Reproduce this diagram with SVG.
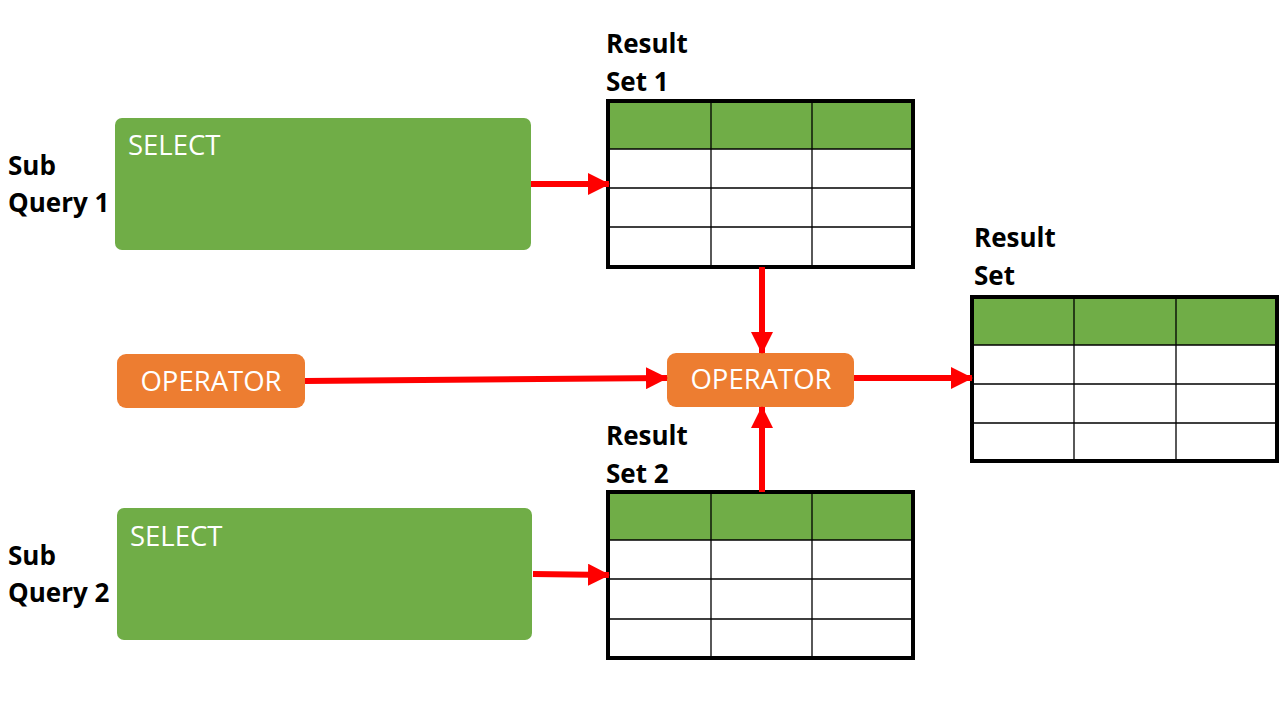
<svg xmlns="http://www.w3.org/2000/svg" width="1280" height="720" viewBox="0 0 1280 720">
<style>
.lbl{font-family:"Open Sans","Liberation Sans",sans-serif;font-weight:bold;font-size:26px;fill:#000}
.sel{fill:#70AD47}
.selt{font-family:"Open Sans","Liberation Sans",sans-serif;font-size:27.5px;fill:#fff}
.op{fill:#ED7D31}
.opt{font-family:"Open Sans","Liberation Sans",sans-serif;font-size:27.5px;fill:#fff;text-anchor:middle}
.hdr{fill:#70AD47}
.grid{stroke:#000;stroke-width:1.3;fill:none}
.outer{stroke:#000;stroke-width:4;fill:none}
.conn{stroke:#FF0000;stroke-width:6;fill:none;marker-end:url(#ah)}
</style>
<defs>
<marker id="ah" markerUnits="userSpaceOnUse" markerWidth="22" markerHeight="22" refX="21" refY="11" orient="auto">
<path d="M0,0 L22,11 L0,22 z" fill="#FF0000"/>
</marker>
</defs>
<rect width="1280" height="720" fill="#fff"/>

<g id="subquery1">
<text class="lbl" x="8" y="175">Sub</text>
<text class="lbl" x="8" y="212">Query 1</text>
<rect class="sel" x="115" y="118" width="416" height="132" rx="7"/>
<text class="selt" x="128" y="155">SELECT</text>
</g>

<g id="subquery2">
<text class="lbl" x="8" y="565">Sub</text>
<text class="lbl" x="8" y="602">Query 2</text>
<rect class="sel" x="117" y="508" width="415" height="132" rx="7"/>
<text class="selt" x="130" y="546">SELECT</text>
</g>

<g id="resultset1">
<text class="lbl" x="606" y="53">Result</text>
<text class="lbl" x="606" y="91">Set 1</text>
<rect class="hdr" x="608" y="101" width="305" height="48"/>
<path class="grid" d="M608,149H913M608,188H913M608,227H913M711,101V267M812,101V267"/>
<rect class="outer" x="608" y="101" width="305" height="166"/>
</g>

<g id="resultset2">
<text class="lbl" x="606" y="445">Result</text>
<text class="lbl" x="606" y="483">Set 2</text>
<rect class="hdr" x="608" y="492" width="305" height="48"/>
<path class="grid" d="M608,540H913M608,579H913M608,619H913M711,492V658M812,492V658"/>
<rect class="outer" x="608" y="492" width="305" height="166"/>
</g>

<g id="resultset">
<text class="lbl" x="974" y="247">Result</text>
<text class="lbl" x="974" y="285">Set</text>
<rect class="hdr" x="972" y="297" width="305" height="48"/>
<path class="grid" d="M972,345H1277M972,384H1277M972,423H1277M1074,297V461M1176,297V461"/>
<rect class="outer" x="972" y="297" width="305" height="164"/>
</g>

<g id="operator1">
<rect class="op" x="117" y="354" width="188" height="54" rx="9"/>
<text class="opt" x="211" y="391">OPERATOR</text>
</g>

<g id="operator2">
<rect class="op" x="667" y="353" width="187" height="54" rx="9"/>
<text class="opt" x="761" y="389">OPERATOR</text>
</g>

<g id="connectors">
<line class="conn" x1="531" y1="184" x2="609" y2="184"/>
<line class="conn" x1="533" y1="574" x2="609" y2="575"/>
<line class="conn" x1="762" y1="267" x2="762" y2="353"/>
<line class="conn" x1="762" y1="492" x2="762" y2="407"/>
<line class="conn" x1="305" y1="381" x2="667" y2="378"/>
<line class="conn" x1="854" y1="378" x2="972" y2="378"/>
</g>
</svg>
